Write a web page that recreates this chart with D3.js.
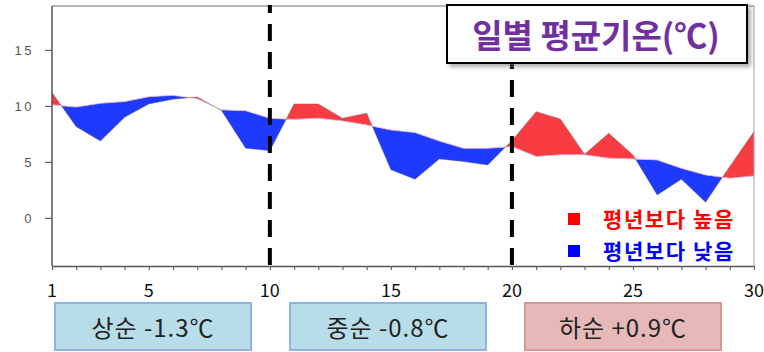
<!DOCTYPE html>
<html>
<head>
<meta charset="utf-8">
<script src="https://cdn.jsdelivr.net/npm/d3@7"></script>
<style>
  html, body { margin: 0; padding: 0; background: #fff; }
  svg { display: block; }
</style>
</head>
<body>
<svg id="chart" width="764" height="352"></svg>
<script>
// Daily mean temperature vs. climatological normal, days 1–30
const days = d3.range(1, 31);
const observed = [11.2, 8.15, 6.87, 9.0, 10.18, 10.6, 10.8, 9.6, 6.22, 6.0,
                  10.18, 10.18, 8.9, 9.35, 4.29, 3.45, 5.27, 5.03, 4.73, 6.9,
                  9.49, 8.84, 5.68, 7.56, 5.62, 2.05, 3.45, 1.4, 4.6, 7.71];
const normal = [10.1, 9.9, 10.24, 10.39, 10.83, 10.95, 10.65, 9.65, 9.58, 8.9,
                8.8, 8.9, 8.66, 8.3, 7.86, 7.62, 6.87, 6.22, 6.22, 6.37,
                5.48, 5.63, 5.63, 5.33, 5.27, 5.18, 4.43, 3.84, 3.54, 3.75];
const yTicks = [0, 5, 10, 15];
const xTicks = [1, 5, 10, 15, 20, 25, 30];
const dekadDividers = [10, 20];
const dekads = [
  { label: "상순 -1.3℃", kind: "cold" },
  { label: "중순 -0.8℃", kind: "cold" },
  { label: "하순 +0.9℃", kind: "warm" }
];
const titleText = "일별 평균기온(℃)";
const legendItems = [
  { label: "평년보다 높음", color: "#ff0000" },
  { label: "평년보다 낮음", color: "#0000ff" }
];

const svg = d3.select("#chart");
const plot = { left: 52, right: 754, top: 6, bottom: 266 };

const x = d3.scaleLinear().domain([1, 30]).range([plot.left, plot.right]);
const y = d3.scaleLinear().domain([-4.3, 18.93]).range([plot.bottom, plot.top]);

const rows = days.map((d, i) => ({ day: d, obs: observed[i], norm: normal[i] }));

const defs = svg.append("defs");
// regions above / below the normal line, used to split the difference band
defs.append("clipPath").attr("id", "above-normal")
  .append("path")
  .attr("d", d3.area().x(d => x(d.day)).y0(plot.top).y1(d => y(d.norm))(rows));
defs.append("clipPath").attr("id", "below-normal")
  .append("path")
  .attr("d", d3.area().x(d => x(d.day)).y0(plot.bottom).y1(d => y(d.norm))(rows));

const shadow = defs.append("filter").attr("id", "title-shadow")
  .attr("x", "-10%").attr("y", "-20%").attr("width", "130%").attr("height", "150%");
shadow.append("feDropShadow").attr("dx", 3).attr("dy", 3)
  .attr("stdDeviation", 2).attr("flood-color", "#777").attr("flood-opacity", 0.6);

const band = d3.area().x(d => x(d.day)).y0(d => y(d.norm)).y1(d => y(d.obs));

svg.append("path").datum(rows)
  .attr("d", band).attr("fill", "#f93c42")
  .attr("clip-path", "url(#above-normal)");
svg.append("path").datum(rows)
  .attr("d", band).attr("fill", "#1f3aff")
  .attr("clip-path", "url(#below-normal)");

// thin outlines of both curves
svg.append("path").datum(rows)
  .attr("d", d3.line().x(d => x(d.day)).y(d => y(d.norm)))
  .attr("fill", "none").attr("stroke", "#e9b6d6").attr("stroke-width", 0.8);
svg.append("path").datum(rows)
  .attr("d", d3.line().x(d => x(d.day)).y(d => y(d.obs)))
  .attr("fill", "none").attr("stroke", "#666").attr("stroke-opacity", 0.55).attr("stroke-width", 0.8);

// frame
svg.append("line").attr("x1", plot.left).attr("x2", plot.right)
  .attr("y1", plot.top).attr("y2", plot.top)
  .attr("stroke", "#b5b5b5").attr("stroke-width", 2);
svg.append("line").attr("x1", plot.right).attr("x2", plot.right)
  .attr("y1", plot.top).attr("y2", plot.bottom)
  .attr("stroke", "#a0a0a0").attr("stroke-width", 1);

// y axis
const yAxis = svg.append("g").attr("transform", `translate(${plot.left},0)`)
  .call(d3.axisLeft(y).tickValues(yTicks).tickSize(7).tickPadding(11).tickSizeOuter(0));
yAxis.select(".domain").attr("stroke", "#555").attr("stroke-width", 1.5)
  .attr("d", `M0,${plot.top}V${plot.bottom}`);
yAxis.selectAll(".tick line").attr("stroke", "#666").attr("stroke-width", 1.3);
yAxis.selectAll(".tick text")
  .attr("font-family", "'Liberation Sans', Arial, sans-serif")
  .attr("font-size", 13).attr("letter-spacing", 2.5).attr("fill", "#555");

// x axis: a tick every day, labels at selected days
const xAxis = svg.append("g").attr("transform", `translate(0,${plot.bottom})`)
  .call(d3.axisBottom(x).tickValues(days).tickSize(4).tickSizeOuter(0).tickFormat(""));
xAxis.select(".domain").attr("stroke", "#555").attr("stroke-width", 1.5);
xAxis.selectAll(".tick line").attr("stroke", "#666").attr("stroke-width", 1.2);

svg.append("g").selectAll("text").data(xTicks).join("text")
  .attr("x", d => x(d)).attr("y", 297)
  .attr("text-anchor", "middle")
  .attr("font-family", "'Noto Sans CJK KR', 'Noto Sans', sans-serif")
  .attr("font-size", 18).attr("fill", "#111")
  .text(d => d);

// dekad dividers
svg.append("g").selectAll("line").data(dekadDividers).join("line")
  .attr("x1", d => x(d)).attr("x2", d => x(d))
  .attr("y1", plot.top - 1).attr("y2", plot.bottom + 2)
  .attr("stroke", "#000").attr("stroke-width", 4)
  .attr("stroke-dasharray", "17,11").attr("stroke-dashoffset", 9);

// title box
const tg = svg.append("g");
tg.append("rect").attr("x", 447).attr("y", 5).attr("width", 300).attr("height", 58)
  .attr("fill", "#fff").attr("stroke", "#000").attr("stroke-width", 2)
  .attr("filter", "url(#title-shadow)");
tg.append("text").attr("x", 596).attr("y", 48).attr("text-anchor", "middle")
  .attr("font-family", "'Noto Sans CJK KR', sans-serif")
  .attr("font-weight", 700).attr("font-size", 33).attr("fill", "#7030a0")
  .text(titleText);

// legend
const lg = svg.append("g").selectAll("g").data(legendItems).join("g")
  .attr("transform", (d, i) => `translate(568,${213 + i * 32})`);
lg.append("rect").attr("width", 12).attr("height", 12).attr("fill", d => d.color);
lg.append("text").attr("x", 35).attr("y", 14)
  .attr("font-family", "'Noto Sans CJK KR', sans-serif")
  .attr("font-weight", 700).attr("font-size", 21).attr("letter-spacing", 1.6)
  .attr("fill", d => d.color)
  .text(d => d.label);

// dekad anomaly boxes
const boxStyles = {
  cold: { fill: "#b7dde8", stroke: "#8fb4e3" },
  warm: { fill: "#e6b9b8", stroke: "#d99694" }
};
const boxW = 196, boxStep = 235, boxLeft = 55;
const boxes = svg.append("g").selectAll("g").data(dekads).join("g")
  .attr("transform", (d, i) => `translate(${boxLeft + i * boxStep},303)`);
boxes.append("rect")
  .attr("width", boxW).attr("height", 47)
  .attr("fill", d => boxStyles[d.kind].fill)
  .attr("stroke", d => boxStyles[d.kind].stroke).attr("stroke-width", 2);
boxes.append("text")
  .attr("x", boxW / 2).attr("y", 34).attr("text-anchor", "middle")
  .attr("font-family", "'Noto Sans CJK KR', sans-serif")
  .attr("font-size", 24).attr("letter-spacing", 1).attr("fill", "#222")
  .text(d => d.label);
</script>
</body>
</html>
